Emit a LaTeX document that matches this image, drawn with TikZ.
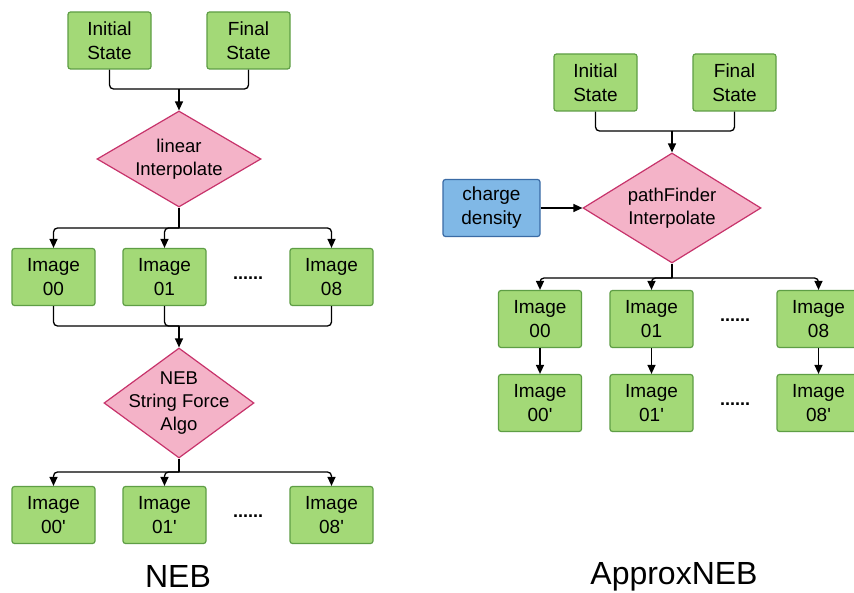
\documentclass[tikz,border=0pt]{standalone}
\usepackage{fontspec}
\setmainfont{Liberation Sans}
\usetikzlibrary{shapes.geometric,arrows.meta}
\definecolor{gfill}{HTML}{A3D977}
\definecolor{gline}{HTML}{5E9E45}
\definecolor{pfill}{HTML}{F4B3C8}
\definecolor{pline}{HTML}{C7336B}
\definecolor{bfill}{HTML}{80B8E6}
\definecolor{bline}{HTML}{3A6BA5}
\newcommand{\pr}{\textquotesingle}
\tikzset{
  gbox/.style={draw=gline, fill=gfill, line width=1.2pt, rounded corners=2.5pt,
    minimum width=83pt, minimum height=57pt, inner sep=0pt, align=center,
    font=\fontsize{19}{24}\selectfont},
  bbox/.style={gbox, draw=bline, fill=bfill, minimum width=97pt},
  dia/.style={diamond, draw=pline, fill=pfill, line width=1.2pt, inner sep=0pt},
  diatext/.style={align=center, font=\fontsize{18.5}{23}\selectfont, inner sep=0pt},
  dots/.style={font=\bfseries\fontsize{18}{24}\selectfont, inner sep=0pt},
  conn/.style={line width=1.3pt, rounded corners=4pt},
  arr/.style={conn, -{Triangle[length=9pt,width=8pt]}},
  title/.style={font=\fontsize{32}{38}\selectfont, inner sep=0pt}
}
\begin{document}
\begin{tikzpicture}[x=1pt,y=-1pt]
\useasboundingbox (0,0) rectangle (854,593);
\fill[white] (0,0) rectangle (854,593);
\clip (0,0) rectangle (854,593);

% ---------- NEB (left) ----------
\node[gbox] (lis) at (109.5,40.5) {Initial\\State};
\node[gbox] (lfs) at (248.5,40.5) {Final\\State};
\node[dia, minimum width=164pt, minimum height=96pt] (ld1) at (179,159) {};
\node[diatext] (ld1t) at (ld1.center) {linear\\Interpolate};
\coordinate (lj1) at (179,89);
\draw[conn] (lis.south) |- (lj1) -| (lfs.south);
\draw[arr] (lj1) -- (ld1.north);

\node[gbox] (li00) at (53.5,277) {Image\\00};
\node[gbox] (li01) at (164.5,277) {Image\\01};
\node[gbox] (li08) at (331.5,277) {Image\\08};
\node[dots] (ldots1) at (248,278) {......};
\coordinate (lb1) at (179,228);
\draw[conn] (ld1.south) -- (lb1);
\draw[arr] (lb1) -| (li00.north);
\draw[arr] (lb1) -| (li01.north);
\draw[arr] (lb1) -| (li08.north);

\node[dia, minimum width=150pt, minimum height=110pt] (ld2) at (179,403) {};
\node[diatext] (ld2t) at (ld2.center) {NEB\\String Force\\Algo};
\coordinate (lj2) at (179,326);
\draw[conn] (li00.south) |- (lj2);
\draw[conn] (li01.south) |- (lj2);
\draw[conn] (li08.south) |- (lj2);
\draw[arr] (lj2) -- (ld2.north);

\node[gbox] (lo00) at (53.5,515) {Image\\00\pr};
\node[gbox] (lo01) at (164.5,515) {Image\\01\pr};
\node[gbox] (lo08) at (331.5,515) {Image\\08\pr};
\node[dots] (ldots2) at (248,516) {......};
\coordinate (lb2) at (179,472);
\draw[conn] (ld2.south) -- (lb2);
\draw[arr] (lb2) -| (lo00.north);
\draw[arr] (lb2) -| (lo01.north);
\draw[arr] (lb2) -| (lo08.north);

\node[title] (lneb) at (178,576) {NEB};

% ---------- ApproxNEB (right) ----------
\node[gbox] (ris) at (595.5,82.5) {Initial\\State};
\node[gbox] (rfs) at (734.5,82.5) {Final\\State};
\node[dia, minimum width=178pt, minimum height=110pt] (rd1) at (672,208) {};
\node[diatext] (rd1t) at (rd1.center) {pathFinder\\Interpolate};
\node[bbox] (rcd) at (491.5,208) {charge\\density};
\coordinate (rj1) at (672,131);
\draw[conn] (ris.south) |- (rj1) -| (rfs.south);
\draw[arr] (rj1) -- (rd1.north);
\draw[arr] (rcd.east) -- (rd1.west);

\node[gbox] (ri00) at (540,319) {Image\\00};
\node[gbox] (ri01) at (651.5,319) {Image\\01};
\node[gbox] (ri08) at (818.5,319) {Image\\08};
\node[dots] (rdots1) at (735,320) {......};
\coordinate (rb1) at (672,278);
\draw[conn] (rd1.south) -- (rb1);
\draw[arr] (rb1) -| (ri00.north);
\draw[arr] (rb1) -| (ri01.north);
\draw[arr] (rb1) -| (ri08.north);

\node[gbox] (ro00) at (540,403) {Image\\00\pr};
\node[gbox] (ro01) at (651.5,403) {Image\\01\pr};
\node[gbox] (ro08) at (818.5,403) {Image\\08\pr};
\node[dots] (rdots2) at (735,404) {......};
\draw[arr] (ri00.south) -- (ro00.north);
\draw[arr] (ri01.south) -- (ro01.north);
\draw[arr] (ri08.south) -- (ro08.north);

\node[title] (rneb) at (674,577) {ApproxNEB};
\end{tikzpicture}
\end{document}
